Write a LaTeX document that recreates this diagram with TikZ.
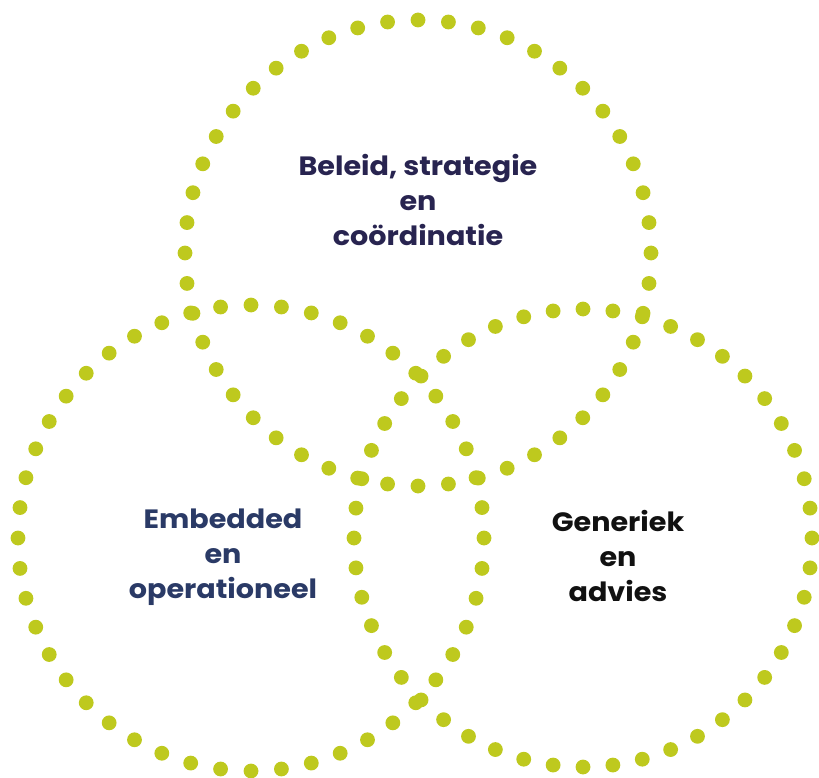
\documentclass[tikz,border=0pt]{standalone}
\usepackage{fontspec}
\usetikzlibrary{calc}
\setmainfont{Poppins}[FakeStretch=1.08]
\definecolor{dotgreen}{RGB}{190,201,30}
\definecolor{navytop}{RGB}{40,36,80}
\definecolor{navyleft}{RGB}{42,58,102}
\definecolor{textblack}{RGB}{17,17,17}
\tikzset{
  dotring/.style={fill=dotgreen},
  lbl/.style={align=center, font=\fontsize{26.5}{35}\selectfont\bfseries, inner sep=0pt}
}
\begin{document}
\begin{tikzpicture}[x=1pt,y=-1pt]
\useasboundingbox (0,0) rectangle (819,778);
\fill[white] (0,0) rectangle (819,778);
\foreach \cx/\cy/\r in {418/253/233, 251/538/233, 583/538/229}{
  \foreach \i in {0,...,47}{
    \fill[dotring] ($(\cx,\cy)+(\i*7.5:\r)$) circle (7.4);
  }
}
\node[lbl, text=navytop] (top) at (418,200) {Beleid, strategie\\en\\coördinatie};
\node[lbl, text=navyleft] (left) at (223,557) {Embedded\\en\\operationeel};
\node[lbl, text=textblack] (right) at (618,556) {Generiek\\en\\advies};
\end{tikzpicture}
\end{document}
